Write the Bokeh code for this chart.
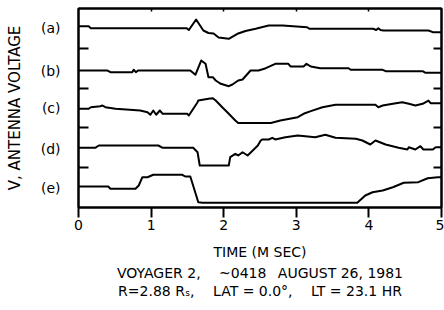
import numpy as np
from bokeh.plotting import figure
from bokeh.models import LinearAxis, Range1d, FixedTicker, Title
from bokeh.embed import file_html
from bokeh.resources import INLINE

# ---- data (time in ms, antenna voltage in stacked arbitrary units) ----
t_a = [0, 0.14, 0.17, 1.49, 1.52, 1.62, 1.72, 1.79, 1.86, 1.93, 2.07, 2.20, 2.30, 2.44,
       2.62, 2.81, 3.15, 3.18, 4.06, 4.10, 4.13, 4.16, 4.20, 4.82, 4.88, 5.0]
v_a = [4.555, 4.555, 4.505, 4.505, 4.46, 4.724, 4.447, 4.384, 4.372, 4.271, 4.239, 4.372,
       4.435, 4.49, 4.573, 4.573, 4.53, 4.49, 4.49, 4.46, 4.505, 4.46, 4.447, 4.447, 4.405, 4.405]

t_b = [0, 0.40, 0.44, 0.74, 0.76, 0.79, 0.82, 0.90, 1.54, 1.61, 1.69, 1.75, 1.79, 1.85,
       1.89, 1.96, 2.07, 2.12, 2.20, 2.26, 2.37, 2.48, 2.58, 2.71, 2.89, 2.92, 3.10, 3.14,
       3.20, 3.33, 3.72, 3.75, 4.19, 4.23, 4.74, 4.78, 5.0]
v_b = [3.442, 3.442, 3.40, 3.40, 3.46, 3.40, 3.442, 3.442, 3.442, 3.334, 3.693, 3.61,
       3.274, 3.274, 3.191, 3.108, 3.048, 3.09, 3.191, 3.216, 3.442, 3.442, 3.50, 3.61,
       3.61, 3.543, 3.543, 3.61, 3.543, 3.50, 3.50, 3.46, 3.46, 3.425, 3.425, 3.384, 3.384]

t_c = [0, 0.14, 0.17, 0.30, 0.33, 0.37, 0.51, 0.85, 0.95, 0.99, 1.03, 1.07, 1.12, 1.16,
       1.50, 1.52, 1.64, 1.65, 1.79, 1.85, 1.89, 1.98, 2.07, 2.16, 2.20, 2.65, 2.78, 3.02,
       3.10, 3.20, 3.36, 3.54, 4.09, 4.13, 4.19, 4.33, 4.46, 4.55, 4.64, 4.74, 4.82, 4.85, 5.0]
v_c = [2.48, 2.48, 2.52, 2.545, 2.563, 2.52, 2.48, 2.437, 2.394, 2.33, 2.437, 2.33, 2.437,
       2.354, 2.354, 2.312, 2.646, 2.688, 2.731, 2.746, 2.688, 2.52, 2.354, 2.186, 2.123,
       2.123, 2.186, 2.269, 2.354, 2.42, 2.52, 2.58, 2.58, 2.52, 2.563, 2.606, 2.646, 2.606,
       2.563, 2.606, 2.688, 2.621, 2.621]

t_d = [0, 0.23, 0.28, 1.10, 1.16, 1.58, 1.64, 1.67, 2.07, 2.09, 2.16, 2.20, 2.26, 2.33,
       2.40, 2.47, 2.51, 2.53, 2.62, 2.67, 2.71, 2.85, 3.02, 3.26, 3.40, 3.54, 3.82, 3.91,
       4.02, 4.09, 4.23, 4.41, 4.53, 4.55, 4.64, 4.71, 4.75, 4.88, 4.92, 5.0]
v_d = [1.50, 1.50, 1.558, 1.558, 1.50, 1.50, 1.389, 1.055, 1.055, 1.264, 1.349, 1.307,
       1.389, 1.307, 1.432, 1.558, 1.683, 1.709, 1.709, 1.751, 1.709, 1.766, 1.809, 1.766,
       1.827, 1.751, 1.726, 1.683, 1.583, 1.683, 1.583, 1.50, 1.457, 1.515, 1.457, 1.54,
       1.457, 1.457, 1.515, 1.515]

t_e = [0, 0.41, 0.44, 0.785, 0.83, 0.88, 0.95, 1.03, 1.43, 1.47, 1.54, 1.65, 1.71, 3.84,
       3.95, 4.05, 4.19, 4.33, 4.48, 4.68, 4.81, 4.95, 5.0]
v_e = [0.528, 0.528, 0.47, 0.47, 0.553, 0.761, 0.761, 0.822, 0.822, 0.779, 0.779, 0.133,
       0.118, 0.118, 0.302, 0.384, 0.427, 0.51, 0.621, 0.636, 0.736, 0.761, 0.761]

trace_names = ["(a)", "(b)", "(c)", "(d)", "(e)"]
trace_levels = [4.52, 3.44, 2.49, 1.47, 0.50]
x_ticks = [0, 1, 2, 3, 4, 5]
y_ticks = [1, 2, 3, 4]
x_title = "TIME (M SEC)"
y_title = "V, ANTENNA VOLTAGE"
caption_1 = "VOYAGER 2,\u2002\u2002 ~0418\u2002 AUGUST 26, 1981"
caption_2 = "R=2.88 R\u209b,\u2002\u2002 LAT = 0.0°,\u2002\u2002 LT = 23.1 HR"

FONT = "DejaVu Sans"

p = figure(width=444, height=310, output_backend="svg", toolbar_location=None,
           x_range=Range1d(0, 5), y_range=Range1d(0, 5),
           x_axis_type=None, y_axis_type=None,
           min_border_left=78, min_border_right=3, min_border_top=8, min_border_bottom=103)
p.grid.visible = False
p.outline_line_color = "black"
p.outline_line_width = 2
p.background_fill_color = "white"
p.border_fill_color = "white"

blank_y = {t: "" for t in y_ticks}

bottom = LinearAxis(ticker=FixedTicker(ticks=x_ticks), major_tick_in=0, major_tick_out=10,
                    axis_line_width=2, major_tick_line_width=2,
                    major_label_text_font=FONT, major_label_text_font_size="14px",
                    major_label_text_color="black", major_label_standoff=2,
                    minor_tick_line_color=None,
                    axis_label=x_title, axis_label_text_font=FONT,
                    axis_label_text_font_size="14px", axis_label_text_font_style="normal",
                    axis_label_text_color="black", axis_label_standoff=11)
p.add_layout(bottom, "below")

for txt in [caption_1, caption_2]:
    p.add_layout(Title(text=txt, align="center", text_font=FONT, text_font_size="14px",
                       text_font_style="normal", text_color="black", standoff=0), "below")

# inner left axis: inward ticks only
left = LinearAxis(ticker=FixedTicker(ticks=y_ticks), major_tick_in=10, major_tick_out=0,
                  axis_line_width=2, major_tick_line_width=2, major_label_overrides=blank_y,
                  major_label_standoff=0, minor_tick_line_color=None)
p.add_layout(left, "left")

# outer left axis: trace names and axis title
names_axis = LinearAxis(ticker=FixedTicker(ticks=trace_levels),
                        major_label_overrides={lv: nm for lv, nm in zip(trace_levels, trace_names)},
                        major_tick_in=0, major_tick_out=0, axis_line_color=None,
                        major_tick_line_color=None, minor_tick_line_color=None,
                        major_label_standoff=18, major_label_text_font=FONT,
                        major_label_text_font_size="14px", major_label_text_color="black",
                        axis_label=y_title, axis_label_text_font=FONT,
                        axis_label_text_font_size="15px", axis_label_text_font_style="normal",
                        axis_label_text_color="black", axis_label_standoff=14)
p.add_layout(names_axis, "left")

right = LinearAxis(ticker=FixedTicker(ticks=y_ticks), major_tick_in=8, major_tick_out=0,
                   axis_line_width=2, major_tick_line_width=2, major_label_overrides=blank_y,
                   major_label_standoff=0, minor_tick_line_color=None)
p.add_layout(right, "right")

top = LinearAxis(ticker=FixedTicker(ticks=[1, 2, 3, 4]), major_tick_in=3, major_tick_out=0,
                 axis_line_width=2, major_tick_line_width=1.5,
                 major_label_overrides={1: "", 2: "", 3: "", 4: ""},
                 major_label_standoff=0, minor_tick_line_color=None)
p.add_layout(top, "above")

for t, v in [(t_a, v_a), (t_b, v_b), (t_c, v_c), (t_d, v_d), (t_e, v_e)]:
    p.line(t, v, line_width=2, line_color="black", line_join="round")

open("out.html", "w").write(file_html(p, INLINE))
